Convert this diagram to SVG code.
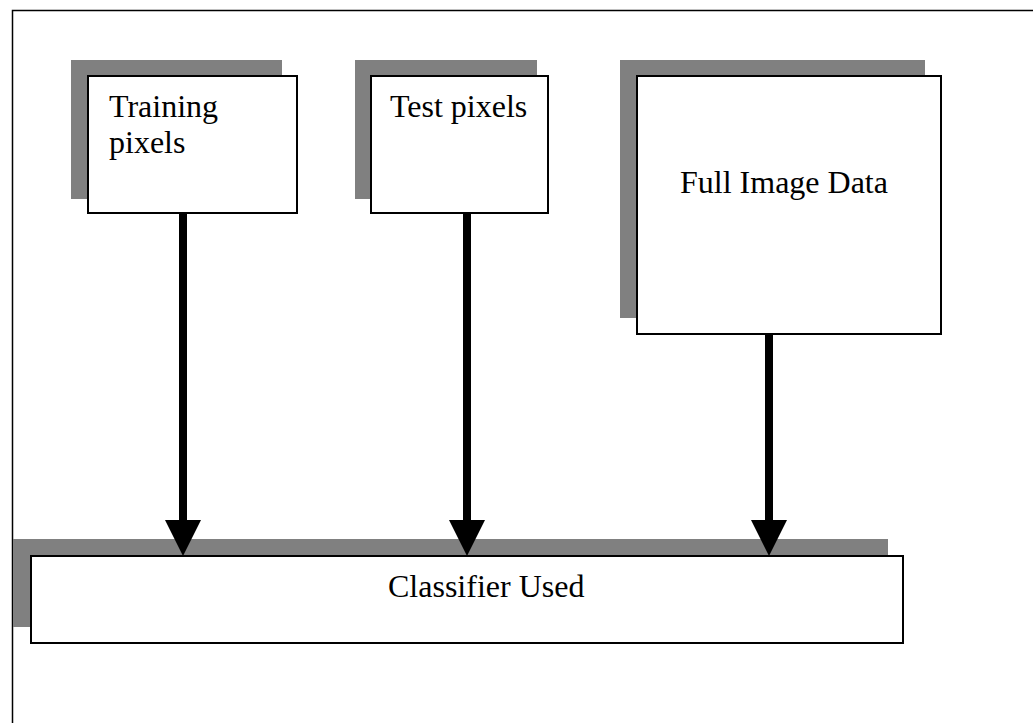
<svg xmlns="http://www.w3.org/2000/svg" width="1033" height="723" viewBox="0 0 1033 723">
<style>
.shadow{fill:#808080;stroke:none}
.box{fill:#fff;stroke:#000;stroke-width:2}
.lbl{font-family:"Liberation Serif","Times New Roman",serif;font-size:32px;fill:#000}
.shaft{stroke:#000;stroke-width:8;fill:none}
.head{fill:#000}
</style>
<rect width="1033" height="723" fill="#fff"/>
<path d="M12.5,740 V10.5 H1040" fill="none" stroke="#000" stroke-width="1.5"/>
<g id="training">
<rect class="shadow" x="71" y="60" width="211" height="139"/>
<rect class="box" x="88" y="76" width="209" height="137"/>
<text class="lbl" x="109" y="117">Training</text>
<text class="lbl" x="109" y="153">pixels</text>
</g>
<g id="test">
<rect class="shadow" x="355" y="60" width="182" height="139"/>
<rect class="box" x="371" y="76" width="177" height="137"/>
<text class="lbl" x="390" y="117">Test pixels</text>
</g>
<g id="full">
<rect class="shadow" x="620" y="60" width="305" height="258"/>
<rect class="box" x="637" y="76" width="304" height="258"/>
<text class="lbl" x="680" y="193">Full Image Data</text>
</g>
<g id="classifier">
<rect class="shadow" x="13" y="539" width="875" height="88"/>
<rect class="box" x="31" y="556" width="872" height="87"/>
<text class="lbl" x="388" y="597">Classifier Used</text>
</g>
<g id="connectors">
<line class="shaft" x1="183" y1="214" x2="183" y2="522"/>
<polygon class="head" points="165,520 201,520 183,556"/>
<line class="shaft" x1="467" y1="214" x2="467" y2="522"/>
<polygon class="head" points="449,520 485,520 467,556"/>
<line class="shaft" x1="769" y1="335" x2="769" y2="522"/>
<polygon class="head" points="751,520 787,520 769,556"/>
</g>
</svg>
